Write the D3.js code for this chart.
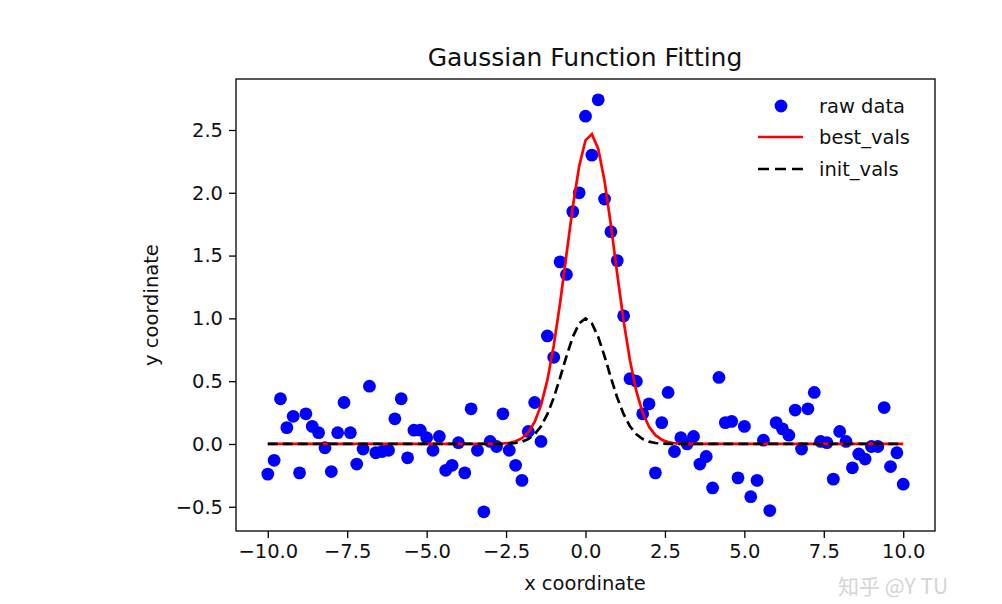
<!DOCTYPE html>
<html>
<head>
<meta charset="utf-8">
<script src="https://cdn.jsdelivr.net/npm/d3@7"></script>
<style>
  body{margin:0;background:#fff;}
  text{font-family:"DejaVu Sans",sans-serif;}
</style>
</head>
<body>
<svg class="chart"></svg>
<script>

// raw data
var rawX = [-10,-9.8,-9.6,-9.4,-9.2,-9,-8.8,-8.6,-8.4,-8.2,
            -8,-7.8,-7.6,-7.4,-7.2,-7,-6.8,-6.6,-6.4,-6.2,
            -6,-5.8,-5.6,-5.4,-5.2,-5,-4.8,-4.6,-4.4,-4.2,
            -4,-3.8,-3.6,-3.4,-3.2,-3,-2.8,-2.6,-2.4,-2.2,
            -2,-1.8,-1.6,-1.4,-1.2,-1,-0.8,-0.6,-0.4,-0.2,
            0,0.2,0.4,0.6,0.8,1,1.2,1.4,1.6,1.8,
            2,2.2,2.4,2.6,2.8,3,3.2,3.4,3.6,3.8,
            4,4.2,4.4,4.6,4.8,5,5.2,5.4,5.6,5.8,
            6,6.2,6.4,6.6,6.8,7,7.2,7.4,7.6,7.8,
            8,8.2,8.4,8.6,8.8,9,9.2,9.4,9.6,9.8,10];
var rawY = [-0.24,-0.13,0.36,0.13,0.22,-0.23,0.24,0.14,0.09,-0.03,
            -0.22,0.09,0.33,0.09,-0.16,-0.04,0.46,-0.07,-0.06,-0.05,
            0.20,0.36,-0.11,0.11,0.11,0.05,-0.05,0.06,-0.21,-0.17,
            0.01,-0.23,0.28,-0.05,-0.54,0.02,-0.02,0.24,-0.05,-0.17,
            -0.29,0.10,0.33,0.02,0.86,0.69,1.45,1.35,1.85,2.00,
            2.61,2.30,2.74,1.95,1.69,1.46,1.02,0.52,0.50,0.24,
            0.32,-0.23,0.17,0.41,-0.06,0.05,0.00,0.06,-0.16,-0.10,
            -0.35,0.53,0.17,0.18,-0.27,0.14,-0.42,-0.29,0.03,-0.53,
            0.17,0.12,0.07,0.27,-0.04,0.28,0.41,0.02,0.01,-0.28,
            0.10,0.02,-0.19,-0.08,-0.12,-0.02,-0.02,0.29,-0.18,-0.07,-0.32];

// fitted curves, sampled where they leave zero
var curveX = [-10,-3.2,-3,-2.8,-2.6,-2.4,-2.2,-2,-1.8,-1.6,-1.4,-1.2,-1,-0.8,-0.6,-0.4,-0.2,
              0,0.2,0.4,0.6,0.8,1,1.2,1.4,1.6,1.8,2,2.2,2.4,2.6,2.8,3,3.2,3.4,10];
var bestY = [0,0,0.0005,0.0014,0.0037,0.009,0.021,0.046,0.093,0.175,0.309,0.508,0.782,1.123,1.507,1.889,2.211,
             2.417,2.467,2.351,2.093,1.741,1.351,0.980,0.664,0.420,0.248,0.137,0.070,0.034,0.015,0.006,0.0025,0.001,0,0];
var initY = [0,0,0.0001,0.0004,0.0012,0.0032,0.0079,0.0183,0.0392,0.0773,0.1409,0.2369,0.3679,0.5273,0.6977,0.8521,0.9608,
             1,0.9608,0.8521,0.6977,0.5273,0.3679,0.2369,0.1409,0.0773,0.0392,0.0183,0.0079,0.0032,0.0012,0.0004,0.0001,0,0,0];

var xTicks = [-10,-7.5,-5,-2.5,0,2.5,5,7.5,10];
var yTicks = [-0.5,0,0.5,1,1.5,2,2.5];
var legendNames = ['raw data','best_vals','init_vals'];

var draw = function(){

  var svgwidth = 1002;
  var svgheight = 604;

  var box = {left:236, right:935, top:79, bottom:531};

  var svg = d3.select('.chart').attr('width',svgwidth).attr('height',svgheight);

  var xscale = d3.scaleLinear().domain([-11,11]).range([box.left,box.right]);
  var yscale = d3.scaleLinear().domain([-0.693,2.906]).range([box.bottom,box.top]);

  var fmt = function(d){ return d3.format('.1f')(d).replace('-','\u2212'); };

  var xaxis = d3.axisBottom(xscale).tickValues(xTicks).tickFormat(fmt).tickSize(7).tickPadding(6);
  var yaxis = d3.axisLeft(yscale).tickValues(yTicks).tickFormat(fmt).tickSize(7).tickPadding(6);

  var gx = svg.append('g').attr('transform','translate(0,'+box.bottom+')').call(xaxis);
  var gy = svg.append('g').attr('transform','translate('+box.left+',0)').call(yaxis);

  [gx,gy].forEach(function(g){
    g.select('.domain').remove();
    g.selectAll('line').attr('stroke','#000').attr('stroke-width',1.3);
    g.selectAll('text').attr('fill','#111').style('font-size','19.5px').style('font-family','DejaVu Sans');
  });

  var plot = svg.append('g');

  plot.selectAll('.dot').data(rawX).enter().append('circle')
      .attr('cx',function(d){ return xscale(d); })
      .attr('cy',function(d,i){ return yscale(rawY[i]); })
      .attr('r',6.4)
      .attr('fill','#0000ff');

  var linegen = function(ys){
    return d3.line().x(function(d){ return xscale(d); }).y(function(d,i){ return yscale(ys[i]); });
  };

  plot.append('path').attr('d',linegen(bestY)(curveX))
      .attr('fill','none').attr('stroke','#ff0000').attr('stroke-width',2.7);

  plot.append('path').attr('d',linegen(initY)(curveX))
      .attr('fill','none').attr('stroke','#000').attr('stroke-width',2.7)
      .style('stroke-dasharray','10,5');

  svg.append('rect')
     .attr('x',box.left).attr('y',box.top)
     .attr('width',box.right-box.left).attr('height',box.bottom-box.top)
     .attr('fill','none').attr('stroke','#000').attr('stroke-width',1.3);

  // legend, no frame
  var legend = svg.append('g');
  var rowy = [106,137,169];

  legend.append('circle').attr('cx',781).attr('cy',rowy[0]).attr('r',6.4).attr('fill','#0000ff');
  legend.append('line').attr('x1',758).attr('x2',803).attr('y1',rowy[1]).attr('y2',rowy[1])
        .attr('stroke','#ff0000').attr('stroke-width',2.7);
  legend.append('line').attr('x1',758).attr('x2',803).attr('y1',rowy[2]).attr('y2',rowy[2])
        .attr('stroke','#000').attr('stroke-width',2.7).style('stroke-dasharray','11,6');

  legend.selectAll('.lname').data(legendNames).enter().append('text')
        .attr('x',819)
        .attr('y',function(d,i){ return rowy[i]; })
        .attr('dy','0.35em')
        .style('font-size','19.5px')
        .attr('fill','#111')
        .text(function(d){ return d; });

  svg.append('text').attr('x',585).attr('y',66)
     .attr('text-anchor','middle').style('font-size','25px').attr('fill','#111')
     .text('Gaussian Function Fitting');

  svg.append('text').attr('x',585).attr('y',590)
     .attr('text-anchor','middle').style('font-size','19.5px').attr('fill','#111')
     .text('x coordinate');

  svg.append('text')
     .attr('transform','translate(158,305) rotate(-90)')
     .attr('text-anchor','middle').style('font-size','19.5px').attr('fill','#111')
     .text('y coordinate');

  // watermark, kept just under the 10.0 tick label
  svg.append('text').attr('x',838).attr('y',594)
     .style('font-family','"Noto Sans CJK SC",sans-serif')
     .style('font-size','21px').attr('fill','#d4d4d4')
     .text('知乎 @Y TU');
}

draw();
</script>
</body>
</html>
